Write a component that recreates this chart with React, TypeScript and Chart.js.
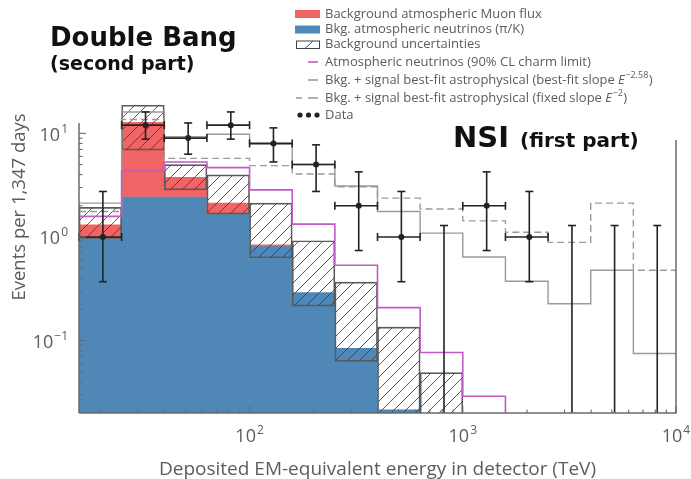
import React, { useEffect, useRef } from "react";
import { Chart, registerables } from "chart.js";

Chart.register(...registerables);

// Bin edges, log10(deposited energy / TeV)
const LOG_EDGES = [1.2, 1.4, 1.6, 1.8, 2.0, 2.2, 2.4, 2.6, 2.8, 3.0, 3.2, 3.4, 3.6, 3.8, 4.0];

// Expected events per bin in 1,347 days
const CONV_NU = [0.98, 2.46, 2.46, 1.7, 0.82, 0.29, 0.084, 0.0215, null, null, null, null, null, null];
const ATM_MUON = [0.33, 10.3, 1.3, 0.42, 0.02, null, null, null, null, null, null, null, null, null];
const UNC_LOW = [0.97, 6.9, 2.85, 1.66, 0.63, 0.215, 0.063, 0.005, 0.005, null, null, null, null, null];
const UNC_HIGH = [1.93, 18.7, 5.0, 3.97, 2.12, 0.92, 0.366, 0.135, 0.049, null, null, null, null, null];
const CHARM_LIMIT = [1.58, 4.34, 5.3, 4.67, 2.85, 1.33, 0.533, 0.208, 0.0767, 0.029, 0.005, 0.005, 0.005, 0.005];
const BEST_FIT = [2.12, 16.1, 9.3, 9.8, 7.9, 5.0, 3.11, 1.76, 1.09, 0.64, 0.374, 0.227, 0.477, 0.075];
const FIXED_E2 = [1.76, 13.6, 5.74, 5.74, 4.88, 4.06, 3.05, 2.37, 1.86, 1.43, 1.11, 0.887, 2.12, 0.477];

// Observed events with 68% confidence intervals
const EVENTS = [1, 12, 9, 12, 8, 5, 2, 1, 0, 2, 1, 0, 0, 0];
const EVENTS_LOW = [0.37, 8.8, 6.3, 8.8, 5.3, 2.75, 0.74, 0.37, 0, 0.74, 0.37, 0, 0, 0];
const EVENTS_HIGH = [2.75, 16.1, 12.6, 16.1, 11.3, 7.75, 4.25, 2.75, 1.29, 4.25, 2.75, 1.29, 1.29, 1.29];

// Axis labels
const X_TICK_VALUES = [100, 1000, 10000];
const X_TICK_EXPS = ["2", "3", "4"];
const Y_TICK_VALUES = [0.1, 1, 10];
const Y_TICK_EXPS = ["\u22121", "0", "1"];
const X_TITLE = "Deposited EM-equivalent energy in detector (TeV)";
const Y_TITLE = "Events per 1,347 days";

const LEGEND_LABELS = [
  "Background atmospheric Muon flux",
  "Bkg. atmospheric neutrinos (\u03c0/K)",
  "Background uncertainties",
  "Atmospheric neutrinos (90% CL charm limit)",
  "Bkg. + signal best-fit astrophysical (best-fit slope ",
  "Bkg. + signal best-fit astrophysical (fixed slope ",
  "Data",
];
const LEGEND_EXPS = [null, null, null, null, "\u22122.58", "\u22122", null];

const BLUE = "#4f88b6";
const RED = "#ef6464";
const MAGENTA = "#c25ac8";
const GRAY = "#9a9a9a";
const INK = "#222222";
const TEXT = "#5c5c5c";
const AXIS = "#6a6a6a";
const SANS = '"Open Sans", "Noto Sans", sans-serif';
const BOLD = '"DejaVu Sans", Verdana, sans-serif';

const LEFT_SPINE_TOP = 123;
const RIGHT_SPINE_TOP = 140;
const POINT_SHIFT = 0.012;

const edges = LOG_EDGES.map((e) => 10 ** e);
const centers = LOG_EDGES.slice(0, -1).map((e, i) => 10 ** ((e + LOG_EDGES[i + 1]) / 2));

function stepData(vals: number[]) {
  const pts = vals.map((v, i) => ({ x: edges[i], y: v }));
  pts.push({ x: edges[edges.length - 1], y: vals[vals.length - 1] });
  return pts;
}

function makeHatch(): CanvasPattern | string {
  const s = 12;
  const tile = document.createElement("canvas");
  tile.width = s;
  tile.height = s;
  const t = tile.getContext("2d");
  if (!t) return "rgba(0,0,0,0)";
  t.strokeStyle = "#3c3c3c";
  t.lineWidth = 0.85;
  t.beginPath();
  t.moveTo(0, s);
  t.lineTo(s, 0);
  t.moveTo(-s / 4, s / 4);
  t.lineTo(s / 4, -s / 4);
  t.moveTo((3 * s) / 4, (5 * s) / 4);
  t.lineTo((5 * s) / 4, (3 * s) / 4);
  t.stroke();
  const ctx = document.createElement("canvas").getContext("2d");
  return (ctx && ctx.createPattern(tile, "repeat")) || "rgba(0,0,0,0)";
}

function line(ctx: CanvasRenderingContext2D, x1: number, y1: number, x2: number, y2: number) {
  ctx.beginPath();
  ctx.moveTo(x1, y1);
  ctx.lineTo(x2, y2);
  ctx.stroke();
}

function powerLabel(
  ctx: CanvasRenderingContext2D,
  exp: string,
  x: number,
  baseline: number,
  align: "center" | "right"
) {
  const big = `18px ${SANS}`;
  const small = `12px ${SANS}`;
  ctx.font = big;
  const w1 = ctx.measureText("10").width;
  ctx.font = small;
  const w2 = ctx.measureText(exp).width + 1;
  const total = w1 + w2;
  const x0 = align === "center" ? x - total / 2 : x - total;
  ctx.textAlign = "left";
  ctx.textBaseline = "alphabetic";
  ctx.font = big;
  ctx.fillText("10", x0, baseline);
  ctx.font = small;
  ctx.fillText(exp, x0 + w1 + 1, baseline - 8);
}

const decor = {
  id: "decor",
  beforeDatasetDraw(chart: any, args: any) {
    if (args.index !== 0) return;
    const { ctx, chartArea } = chart;
    const xs = chart.scales.x;
    const ys = chart.scales.y;
    ctx.save();
    ctx.strokeStyle = INK;
    ctx.lineWidth = 1.6;
    const cap = 4;
    EVENTS.forEach((n, i) => {
      const xc = xs.getPixelForValue(centers[i] * 10 ** POINT_SHIFT);
      const yTop = ys.getPixelForValue(EVENTS_HIGH[i]);
      const yBot = EVENTS_LOW[i] > 0 ? ys.getPixelForValue(EVENTS_LOW[i]) : chartArea.bottom;
      line(ctx, xc, yTop, xc, yBot);
      line(ctx, xc - cap, yTop, xc + cap, yTop);
      if (EVENTS_LOW[i] > 0) line(ctx, xc - cap, yBot, xc + cap, yBot);
      if (n > 0) {
        const yc = ys.getPixelForValue(n);
        const xl = xs.getPixelForValue(edges[i]);
        const xr = xs.getPixelForValue(edges[i + 1]);
        line(ctx, xl, yc, xr, yc);
        line(ctx, xl, yc - cap, xl, yc + cap);
        line(ctx, xr, yc - cap, xr, yc + cap);
      }
    });
    ctx.restore();
  },
  afterDatasetsDraw(chart: any) {
    const { ctx, chartArea } = chart;
    const { left, right, bottom } = chartArea;
    const xs = chart.scales.x;
    const ys = chart.scales.y;
    ctx.save();
    ctx.strokeStyle = AXIS;
    ctx.lineWidth = 1.5;
    line(ctx, left, bottom, right + 0.75, bottom);
    line(ctx, left, LEFT_SPINE_TOP, left, bottom);
    line(ctx, right, RIGHT_SPINE_TOP, right, bottom);
    ctx.lineWidth = 1.1;
    for (let e = -2; e <= 1; e++) {
      for (let k = 1; k <= 9; k++) {
        const v = k * 10 ** e;
        if (v < ys.min * 0.999 || v > ys.max) continue;
        const py = ys.getPixelForValue(v);
        if (py < LEFT_SPINE_TOP || py > bottom - 1) continue;
        line(ctx, left, py, left + (k === 1 ? 7 : 3.5), py);
      }
    }
    for (let e = 1; e <= 4; e++) {
      for (let k = 1; k <= 9; k++) {
        const v = k * 10 ** e;
        if (v < xs.min || v > xs.max * 1.001) continue;
        const px = xs.getPixelForValue(v);
        line(ctx, px, bottom, px, bottom - (k === 1 ? 7 : 3.5));
      }
    }
    ctx.restore();
  },
  afterDraw(chart: any) {
    const { ctx, chartArea } = chart;
    const xs = chart.scales.x;
    const ys = chart.scales.y;
    ctx.save();
    ctx.fillStyle = TEXT;
    X_TICK_VALUES.forEach((v, i) => powerLabel(ctx, X_TICK_EXPS[i], xs.getPixelForValue(v), 441.5, "center"));
    Y_TICK_VALUES.forEach((v, i) => powerLabel(ctx, Y_TICK_EXPS[i], 68, ys.getPixelForValue(v) + 7.5, "right"));

    ctx.textAlign = "center";
    ctx.textBaseline = "alphabetic";
    ctx.font = `19px ${SANS}`;
    ctx.fillText(X_TITLE, (chartArea.left + chartArea.right) / 2, 475);
    ctx.font = `18.5px ${SANS}`;
    ctx.save();
    ctx.translate(25, 207);
    ctx.rotate(-Math.PI / 2);
    ctx.fillText(Y_TITLE, 0, 0);
    ctx.restore();

    // legend
    const rows = [14, 29.5, 44.5, 62, 80, 98, 115];
    const tx = 325;
    ctx.textAlign = "left";
    ctx.textBaseline = "middle";
    LEGEND_LABELS.forEach((label, i) => {
      const y = rows[i];
      ctx.font = `13px ${SANS}`;
      ctx.fillStyle = TEXT;
      ctx.fillText(label, tx, y);
      const exp = LEGEND_EXPS[i];
      if (exp) {
        let x = tx + ctx.measureText(label).width;
        ctx.font = `italic 13px ${SANS}`;
        ctx.fillText("E", x, y);
        x += ctx.measureText("E").width + 0.5;
        ctx.font = `9px ${SANS}`;
        ctx.fillText(exp, x, y - 5);
        x += ctx.measureText(exp).width + 0.5;
        ctx.font = `13px ${SANS}`;
        ctx.fillText(")", x, y);
      }
    });
    ctx.fillStyle = RED;
    ctx.fillRect(295, rows[0] - 4, 25, 8);
    ctx.fillStyle = BLUE;
    ctx.fillRect(295, rows[1] - 4, 25, 8);
    ctx.strokeStyle = "#444";
    ctx.lineWidth = 1;
    ctx.strokeRect(296.5, rows[2] - 3.5, 23, 7.5);
    line(ctx, 305, rows[2] + 4, 313, rows[2] - 3.5);
    ctx.lineWidth = 1.6;
    ctx.strokeStyle = MAGENTA;
    line(ctx, 308, rows[3], 318, rows[3]);
    ctx.strokeStyle = GRAY;
    line(ctx, 308, rows[4], 318, rows[4]);
    line(ctx, 296, rows[5], 302, rows[5]);
    line(ctx, 308, rows[5], 318, rows[5]);
    ctx.fillStyle = INK;
    [300, 308.5, 317].forEach((x) => {
      ctx.beginPath();
      ctx.arc(x, rows[6], 2.6, 0, Math.PI * 2);
      ctx.fill();
    });

    // annotations
    ctx.fillStyle = "#111";
    ctx.textBaseline = "alphabetic";
    ctx.font = `bold 26px ${BOLD}`;
    ctx.fillText("Double Bang", 50, 45.5);
    ctx.font = `bold 19px ${BOLD}`;
    ctx.fillText("(second part)", 50, 70);
    ctx.font = `bold 29px ${BOLD}`;
    ctx.fillText("NSI", 453, 146.5);
    ctx.font = `bold 20px ${BOLD}`;
    ctx.fillText("(first part)", 520, 146.5);
    ctx.restore();
  },
};

export default function App() {
  const ref = useRef<HTMLCanvasElement | null>(null);

  useEffect(() => {
    if (!ref.current) return;
    const hatch = makeHatch();
    const bars = (vals: (number | null)[], low?: (number | null)[]) =>
      centers
        .map((x, i) => {
          const v = vals[i];
          if (v == null) return null;
          if (low) {
            const b = low[i] ?? 0;
            return { x, y: [b, b + v] };
          }
          return { x, y: v };
        })
        .filter(Boolean);

    const chart = new Chart(ref.current, {
      type: "bar",
      data: {
        datasets: [
          {
            type: "line",
            label: "Data",
            data: centers.map((x, i) => ({ x: x * 10 ** POINT_SHIFT, y: EVENTS[i] > 0 ? EVENTS[i] : null })),
            showLine: false,
            pointRadius: 3,
            pointBackgroundColor: INK,
            pointBorderWidth: 0,
            order: 0,
          },
          {
            type: "line",
            label: "Atmospheric neutrinos (90% CL charm limit)",
            data: stepData(CHARM_LIMIT),
            stepped: true,
            borderColor: MAGENTA,
            borderWidth: 1.6,
            pointRadius: 0,
            fill: false,
            order: 1,
          },
          {
            type: "line",
            label: "Best-fit slope",
            data: stepData(BEST_FIT),
            stepped: true,
            borderColor: GRAY,
            borderWidth: 1.4,
            pointRadius: 0,
            fill: false,
            order: 2,
          },
          {
            type: "line",
            label: "Fixed slope",
            data: stepData(FIXED_E2),
            stepped: true,
            borderColor: GRAY,
            borderWidth: 1.4,
            borderDash: [7, 4],
            pointRadius: 0,
            fill: false,
            order: 3,
          },
          {
            type: "bar",
            label: "Background uncertainties",
            data: centers
              .map((x, i) => (UNC_HIGH[i] == null ? null : { x, y: [UNC_LOW[i], UNC_HIGH[i]] }))
              .filter(Boolean),
            backgroundColor: hatch,
            borderColor: "#5a5a5a",
            borderWidth: 1,
            borderSkipped: false,
            grouped: false,
            barPercentage: 1,
            categoryPercentage: 1,
            order: 4,
          },
          {
            type: "bar",
            label: "Background atmospheric Muon flux",
            data: bars(ATM_MUON, CONV_NU),
            backgroundColor: RED,
            borderWidth: 0,
            grouped: false,
            barPercentage: 1,
            categoryPercentage: 1,
            order: 5,
          },
          {
            type: "bar",
            label: "Bkg. atmospheric neutrinos (\u03c0/K)",
            data: bars(CONV_NU),
            backgroundColor: BLUE,
            borderWidth: 0,
            grouped: false,
            barPercentage: 1,
            categoryPercentage: 1,
            order: 6,
          },
        ] as any,
      },
      options: {
        responsive: false,
        devicePixelRatio: 1,
        animation: false,
        events: [],
        layout: { padding: { left: 79, right: 15, top: 71, bottom: 66 } },
        plugins: { legend: { display: false }, tooltip: { enabled: false } },
        scales: {
          x: {
            type: "logarithmic",
            min: 10 ** LOG_EDGES[0],
            max: 10 ** LOG_EDGES[LOG_EDGES.length - 1],
            offset: false,
            display: false,
            afterBuildTicks: (s: any) => {
              s.ticks = [];
            },
          },
          y: {
            type: "logarithmic",
            min: 0.02,
            max: 40,
            display: false,
          },
        },
      } as any,
      plugins: [decor],
    });
    return () => chart.destroy();
  }, []);

  return (
    <div style={{ position: "fixed", left: 0, top: 0, width: 691, height: 479, background: "#fff" }}>
      <canvas ref={ref} width={691} height={479} style={{ display: "block" }} />
    </div>
  );
}
